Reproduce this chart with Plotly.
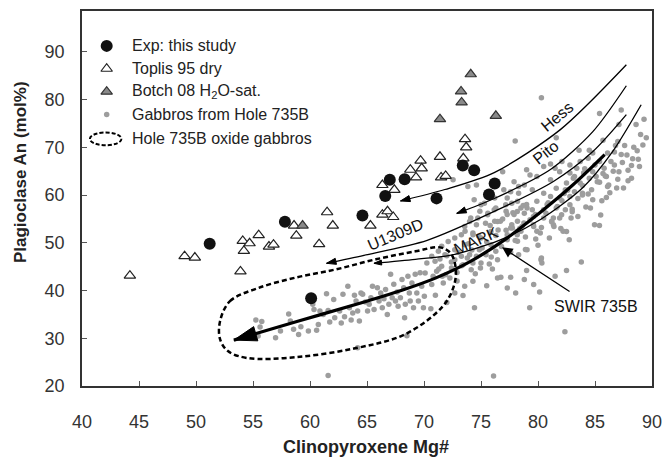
import plotly.graph_objects as go

# ---------------- data ----------------
exp_x = [51.2, 57.8, 60.1, 64.6, 66.6, 67.0, 68.3, 71.1, 73.4, 74.4, 75.7, 76.2]
exp_y = [49.8, 54.4, 38.4, 55.7, 59.8, 63.2, 63.3, 59.3, 66.2, 65.2, 60.1, 62.4]

toplis_x = [44.2, 49.0, 49.9, 53.9, 54.1, 54.7, 54.2, 55.5, 56.4, 56.8, 58.8, 58.6, 60.8, 61.5,
            62.0, 65.3, 66.35, 67.4, 68.8, 69.7, 69.3, 71.4, 71.5, 71.9, 73.45, 73.6, 73.7,
            66.35, 66.8, 67.3, 69.8]
toplis_y = [43.1, 47.2, 46.9, 44.0, 50.4, 49.9, 48.3, 51.6, 49.2, 49.6, 51.5, 53.6, 49.7, 56.4,
            53.6, 53.6, 62.1, 61.1, 65.3, 67.2, 63.7, 68.0, 63.7, 64.0, 67.7, 71.7, 70.0,
            55.9, 56.6, 55.4, 65.6]

botch_x = [59.35, 71.4, 73.25, 73.3, 74.1, 76.3]
botch_y = [53.6, 75.9, 81.7, 79.4, 85.3, 76.6]

gabbro_x = [
    55.25, 55.77, 55.62, 55.45, 56.98, 57.41, 58.13, 58.28, 58.56, 59.0, 59.2, 59.86, 60.24, 60.35,
    60.58, 60.73, 60.87, 61.16, 61.45, 61.59, 61.73, 62.08, 62.17, 62.6, 62.74, 62.89, 63.03, 63.32,
    63.46, 63.61, 63.75, 63.9, 64.04, 64.18, 64.33, 64.47, 64.62, 64.85, 65.05, 65.19, 65.34, 65.48,
    65.62, 65.91, 66.06, 66.2, 66.34, 66.49, 66.63, 66.78, 66.92, 67.07, 67.21, 67.35, 67.5, 67.64,
    67.73, 67.93, 68.07, 68.22, 68.3, 68.36, 68.5, 68.59, 68.71, 68.79, 68.94, 69.08, 69.23, 69.37,
    69.51, 69.66, 69.8, 69.95, 70.03, 64.18, 61.59,
    75.0, 76.16, 77.17, 78.18, 79.04, 79.77, 80.49, 81.35, 82.07, 82.8, 81.35, 82.5, 82.74, 80.2,
    79.62, 78.76, 77.75, 78.18, 77.31, 76.45, 75.87, 75.58, 74.72, 74.0, 73.57, 74.29, 75.0, 75.87,
    74.86, 75.44, 76.3, 76.45, 75.73, 75.0, 74.29, 74.95, 79.04, 80.26, 80.34, 81.5, 82.5, 79.62,
    80.14, 77.31, 78.04, 76.45, 76.74, 77.6, 74.29, 73.57, 73.42, 72.7, 74.43, 79.27, 82.36, 76.1,
    84.96, 85.39,
    70.25, 70.97, 71.55, 71.84, 70.1, 71.11, 71.69, 70.68, 72.27, 72.41, 72.7, 73.28, 72.7, 73.57,
    74.0, 73.42, 74.14, 71.26, 70.68, 72.12, 72.7, 73.28, 71.55,
    80.3, 85.4, 87.3, 89.3, 88.6, 87.1, 81.6, 78.0, 85.7, 89.0,
    83.6, 84.5, 84.8, 86.1, 86.7, 87.3, 87.8, 87.6, 84.4, 85.4, 83.7, 82.8, 82.1, 81.1, 81.5, 81.9,
    82.8, 83.4, 84.1, 84.8, 85.1, 85.8, 86.4, 86.7, 87.1, 86.0, 86.2, 85.4, 84.5, 83.7, 83.1, 82.5,
    79.0, 79.3, 80.5, 79.9, 81.1, 81.6, 82.4, 83.2, 83.9, 84.7, 77.9, 78.8, 77.0, 78.3, 79.5, 80.5,
    81.1, 81.9, 82.8, 83.9, 76.2, 77.3, 78.2, 79.0, 79.9, 80.8, 81.6, 82.4, 82.9, 76.3, 77.2, 77.9,
    78.8, 79.6, 80.5, 81.2, 81.9, 76.7, 77.7, 78.6, 79.6, 81.4, 82.2, 78.9, 80.3, 76.5, 77.3, 78.2,
    79.9,
    72.55, 74.6, 74.4, 75.3, 77.6, 78.3, 77.7, 78.5, 77.3, 74.9, 75.6, 74.1, 74.6, 75.4, 76.2, 73.6,
    74.3, 77.6, 78.2, 78.5, 77.3, 78.2, 73.85, 76.9,
    71.0, 72.0, 70.6, 71.6, 72.9, 86.3, 88.2, 87.9, 88.8, 85.6, 86.9, 84.2, 83.0, 88.4, 87.0, 85.9,
    70.8, 71.3, 71.9, 72.4, 72.9, 73.3, 73.8, 74.2, 74.6, 75.1, 75.5, 75.9, 76.3, 76.8, 77.2, 77.6,
    78.0, 78.4, 78.9, 79.3, 79.8, 80.3, 80.7, 81.2, 81.7, 82.1, 82.6, 83.0, 83.5, 83.9, 84.4, 84.8,
    85.2, 85.7, 86.1, 86.6, 87.0, 87.4, 87.9, 88.3, 88.7, 89.2, 88.9, 89.5, 86.8, 85.0, 84.0, 83.2,
    82.3, 80.9, 79.5, 78.7, 77.8, 76.9, 75.8, 74.8, 73.9, 73.0, 72.0, 71.4, 79.0, 80.0, 81.0, 82.0,
    83.5, 84.6, 86.0, 87.5, 88.2, 78.3, 76.0, 74.5, 75.5, 78.8, 83.8, 85.5,
]
gabbro_y = [
    33.8, 33.5, 32.35, 30.47, 30.1, 31.5, 35.1, 33.6, 31.9, 30.8, 32.4, 31.5, 37.1, 36.0,
    31.7, 32.9, 35.7, 35.0, 39.3, 35.8, 33.4, 38.1, 34.3, 35.7, 33.2, 39.2, 34.5, 40.9,
    36.4, 33.8, 35.3, 39.0, 37.8, 35.7, 33.6, 39.5, 39.2, 37.6, 35.7, 37.1, 38.5, 40.9,
    36.0, 40.6, 37.8, 39.5, 36.4, 38.3, 40.2, 35.0, 37.1, 43.4, 38.5, 41.3, 37.8, 39.7,
    36.7, 38.5, 42.3, 40.6, 34.3, 37.1, 30.5, 43.0, 39.5, 37.8, 41.6, 36.4, 43.4, 39.5,
    37.8, 43.7, 40.9, 36.4, 38.8, 28.0, 22.2,
    57.95, 56.9, 57.95, 56.56, 57.26, 55.9, 56.9, 55.17, 55.86, 57.95, 53.78, 52.38, 50.64, 52.03,
    53.43, 54.12, 53.08, 51.7, 50.64, 54.47, 52.38, 55.86, 55.17, 54.47, 53.43, 52.03, 50.99, 49.6,
    48.55, 47.51, 48.2, 46.46, 45.56, 45.77, 45.77, 44.72, 48.55, 46.46, 45.77, 42.98, 44.17, 41.24,
    39.7, 40.54, 39.5, 42.63, 42.77, 42.77, 41.94, 40.89, 38.94, 39.5, 36.37, 36.37, 31.35, 22.1,
    53.78, 53.64,
    45.77, 46.12, 45.07, 47.51, 43.68, 44.03, 41.59, 41.24, 42.63, 44.72, 46.46, 47.16, 48.55, 49.6,
    47.51, 45.42, 44.37, 48.2, 47.16, 50.29, 50.99, 51.69, 49.25,
    80.4, 77.1, 77.8, 75.9, 74.8, 74.8, 72.0, 71.3, 71.5, 72.7,
    69.4, 69.4, 68.8, 68.8, 69.0, 68.5, 68.4, 70.4, 67.7, 67.0, 67.0, 66.3, 67.0, 66.5, 65.6, 64.9,
    64.6, 65.6, 65.5, 64.9, 63.9, 65.6, 67.0, 66.3, 64.9, 63.9, 62.1, 62.7, 63.5, 62.5, 63.5, 62.5,
    65.3, 64.2, 66.0, 63.9, 63.2, 61.4, 61.1, 60.7, 60.4, 61.1, 62.8, 62.1, 61.1, 60.4, 61.1, 60.4,
    59.7, 59.4, 59.7, 60.0, 59.4, 59.4, 58.7, 58.0, 58.7, 58.0, 57.3, 56.9, 55.2, 57.3, 56.6, 55.9,
    56.2, 55.5, 55.2, 54.5, 55.2, 54.5, 53.8, 53.4, 53.8, 53.4, 52.4, 48.6, 46.8, 52.7, 51.7, 52.4,
    52.4,
    63.2, 62.1, 59.0, 58.3, 60.7, 61.8, 58.3, 57.3, 55.9, 56.6, 56.2, 55.2, 53.8, 54.1, 54.5, 52.4,
    51.7, 53.1, 54.5, 52.4, 51.0, 50.3, 61.8, 64.9,
    39.0, 37.5, 36.2, 43.0, 42.0, 60.5, 66.2, 63.0, 67.5, 58.8, 61.5, 57.5, 56.5, 70.0, 71.2, 64.0,
    43.0, 44.5, 43.3, 46.0, 43.8, 45.2, 46.8, 48.5, 47.2, 48.9, 50.2, 47.0, 51.5, 49.2, 52.6, 48.0,
    50.5, 53.0, 51.2, 54.8, 50.8, 53.2, 56.2, 54.4, 57.6, 58.8, 61.0, 57.0, 59.3, 62.0, 60.2, 59.0,
    62.8, 64.5, 61.8, 65.0, 63.3, 66.8, 65.2, 67.6, 69.3, 70.5, 66.0, 72.0, 70.4, 66.3, 64.6, 63.9,
    60.3, 58.4, 56.9, 57.8, 56.3, 55.0, 53.6, 51.4, 49.8, 48.0, 47.3, 46.6, 44.2, 49.5, 51.0, 53.0,
    55.5, 57.3, 59.5, 61.5, 63.5, 47.5, 44.5, 43.5, 41.0, 42.3, 46.0, 55.8,
]

# trend curves (last point = arrow tip)
hess_x = [87.75, 81.96, 76.16, 71.83, 67.94]
hess_y = [87.28, 73.70, 64.71, 61.16, 58.76]
pito_x = [87.75, 84.81, 81.09, 76.16, 72.87]
pito_y = [82.89, 73.28, 65.34, 59.28, 56.15]
u1309_x = [87.75, 84.81, 81.35, 76.16, 70.28, 64.74, 61.45]
u1309_y = [76.83, 69.10, 62.83, 56.56, 50.51, 47.37, 45.70]
mark_x = [89.05, 86.54, 83.94, 80.22, 76.59, 72.27, 69.24, 65.61]
mark_y = [78.92, 69.10, 61.58, 54.89, 50.51, 47.37, 46.54, 45.70]
swir_x = [85.85, 83.0, 80.0, 77.0, 74.0, 71.0, 68.0, 64.6, 59.0, 53.32]
swir_y = [68.47, 62.0, 56.0, 50.5, 46.0, 42.6, 40.0, 37.5, 33.6, 29.61]

# oxide gabbro envelope
env_x = [52.11, 52.98, 55.40, 58.86, 62.32, 65.78, 69.24, 71.40, 72.35, 72.79, 72.61, 71.66,
         68.37, 64.05, 58.86, 54.53, 52.80, 52.11, 52.11]
env_y = [33.58, 37.76, 40.48, 42.77, 44.45, 46.54, 48.21, 49.04, 47.79, 44.45, 40.89, 36.72,
         30.87, 27.94, 26.06, 25.85, 27.31, 29.82, 33.58]

FONT = "Liberation Sans, Arial, sans-serif"

fig = go.Figure()

fig.add_trace(go.Scatter(x=gabbro_x, y=gabbro_y, mode="markers",
                         marker=dict(size=5.5, color="#9d9d9d"), hoverinfo="skip"))

fig.add_trace(go.Scatter(x=env_x, y=env_y, mode="lines",
                         line=dict(color="black", width=2.5, dash="5px,3px", shape="spline", smoothing=1.0),
                         hoverinfo="skip"))

def curve(xs, ys, width, head, smooth=0.8):
    n = len(xs)
    sizes = [0] * (n - 1) + [head]
    fig.add_trace(go.Scatter(
        x=xs, y=ys, mode="lines+markers",
        line=dict(color="black", width=width, shape="spline", smoothing=smooth),
        marker=dict(symbol="arrow", size=sizes, color="black", angleref="previous",
                    opacity=1, line=dict(width=1, color="black")),
        hoverinfo="skip"))

curve(hess_x, hess_y, 1.3, 10)
curve(pito_x, pito_y, 1.3, 10)
curve(u1309_x, u1309_y, 1.3, 10)
curve(mark_x, mark_y, 1.3, 8)
curve(swir_x, swir_y, 3.2, 24, 1.0)

fig.add_trace(go.Scatter(x=toplis_x, y=toplis_y, mode="markers",
                         marker=dict(symbol="triangle-up", size=10, color="white",
                                     line=dict(color="#222", width=1.2))))
fig.add_trace(go.Scatter(x=botch_x, y=botch_y, mode="markers",
                         marker=dict(symbol="triangle-up", size=10, color="#8a8a8a",
                                     line=dict(color="#333", width=1.2))))
fig.add_trace(go.Scatter(x=exp_x, y=exp_y, mode="markers",
                         marker=dict(symbol="circle", size=12, color="#111", line=dict(width=0))))

# labels on curves
lab = dict(showarrow=False, font=dict(family=FONT, size=16, color="#111"))
fig.add_annotation(x=81.7, y=76.4, text="Hess", textangle=-40, **lab)
fig.add_annotation(x=80.66, y=68.9, text="Pito", textangle=-38, **lab)
fig.add_annotation(x=67.5, y=51.8, text="U1309D", textangle=-23, **lab)
fig.add_annotation(x=74.6, y=50.4, text="MARK", textangle=-24, **lab)
fig.add_annotation(x=85.07, y=36.7, text="SWIR 735B", **lab)
fig.add_annotation(x=76.85, y=49.04, ax=82.9, ay=39.6, axref="x", ayref="y", text="",
                   showarrow=True, arrowhead=2, arrowsize=1.6, arrowwidth=1.3, arrowcolor="black")

# custom legend (overlay axes in plot-area fractions)
leg_y = [0.907, 0.846, 0.785, 0.724]
fig.add_trace(go.Scatter(x=[0.0433], y=[leg_y[0]], xaxis="x2", yaxis="y2", mode="markers",
                         marker=dict(symbol="circle", size=12, color="#111")))
fig.add_trace(go.Scatter(x=[0.0433], y=[leg_y[1]], xaxis="x2", yaxis="y2", mode="markers",
                         marker=dict(symbol="triangle-up", size=10, color="white", line=dict(color="#222", width=1.2))))
fig.add_trace(go.Scatter(x=[0.0433], y=[leg_y[2]], xaxis="x2", yaxis="y2", mode="markers",
                         marker=dict(symbol="triangle-up", size=10, color="#8a8a8a", line=dict(color="#333", width=1.2))))
fig.add_trace(go.Scatter(x=[0.0433], y=[leg_y[3]], xaxis="x2", yaxis="y2", mode="markers",
                         marker=dict(size=5.5, color="#9d9d9d")))
fig.add_shape(type="circle", xref="paper", yref="paper", x0=0.0138, x1=0.0692, y0=0.642, y1=0.676,
              line=dict(color="black", width=2, dash="4px,2px"))
leg_text = ["Exp: this study", "Toplis 95 dry", "Botch 08 H<sub>2</sub>O-sat.",
            "Gabbros from Hole 735B", "Hole 735B oxide gabbros"]
for t, yy in zip(leg_text, leg_y + [0.660]):
    fig.add_annotation(x=0.0848, y=yy, xref="paper", yref="paper", text=t, showarrow=False,
                       xanchor="left", yanchor="middle", font=dict(family=FONT, size=16, color="#222"))

# axis titles
fig.add_annotation(x=-0.109, y=0.570, xref="paper", yref="paper", text="<b>Plagioclase An (mol%)</b>",
                   textangle=-90, showarrow=False, xanchor="center", yanchor="middle",
                   font=dict(family=FONT, size=17, color="#222"))
fig.add_annotation(x=0.498, y=-0.162, xref="paper", yref="paper", text="<b>Clinopyroxene Mg#</b>",
                   showarrow=False, xanchor="center", yanchor="middle",
                   font=dict(family=FONT, size=18, color="#222"))

axis_common = dict(showgrid=False, zeroline=False, showline=True, linecolor="#333", linewidth=1.5,
                   mirror=True, ticks="inside", ticklen=5, tickcolor="#555", tickwidth=1,
                   tickfont=dict(family=FONT, size=18, color="#333"))
fig.update_layout(
    width=671, height=464, margin=dict(l=82, r=11, t=9, b=78),
    paper_bgcolor="white", plot_bgcolor="white", showlegend=False,
    xaxis=dict(range=[40, 90], tickvals=list(range(40, 91, 5)), ticklabelstandoff=19, **axis_common),
    yaxis=dict(range=[20, 98.55], tickvals=list(range(20, 91, 10)), ticklabelstandoff=12, **axis_common),
    xaxis2=dict(range=[0, 1], overlaying="x", visible=False),
    yaxis2=dict(range=[0, 1], overlaying="y", visible=False),
)

fig.write_html("out.html")
